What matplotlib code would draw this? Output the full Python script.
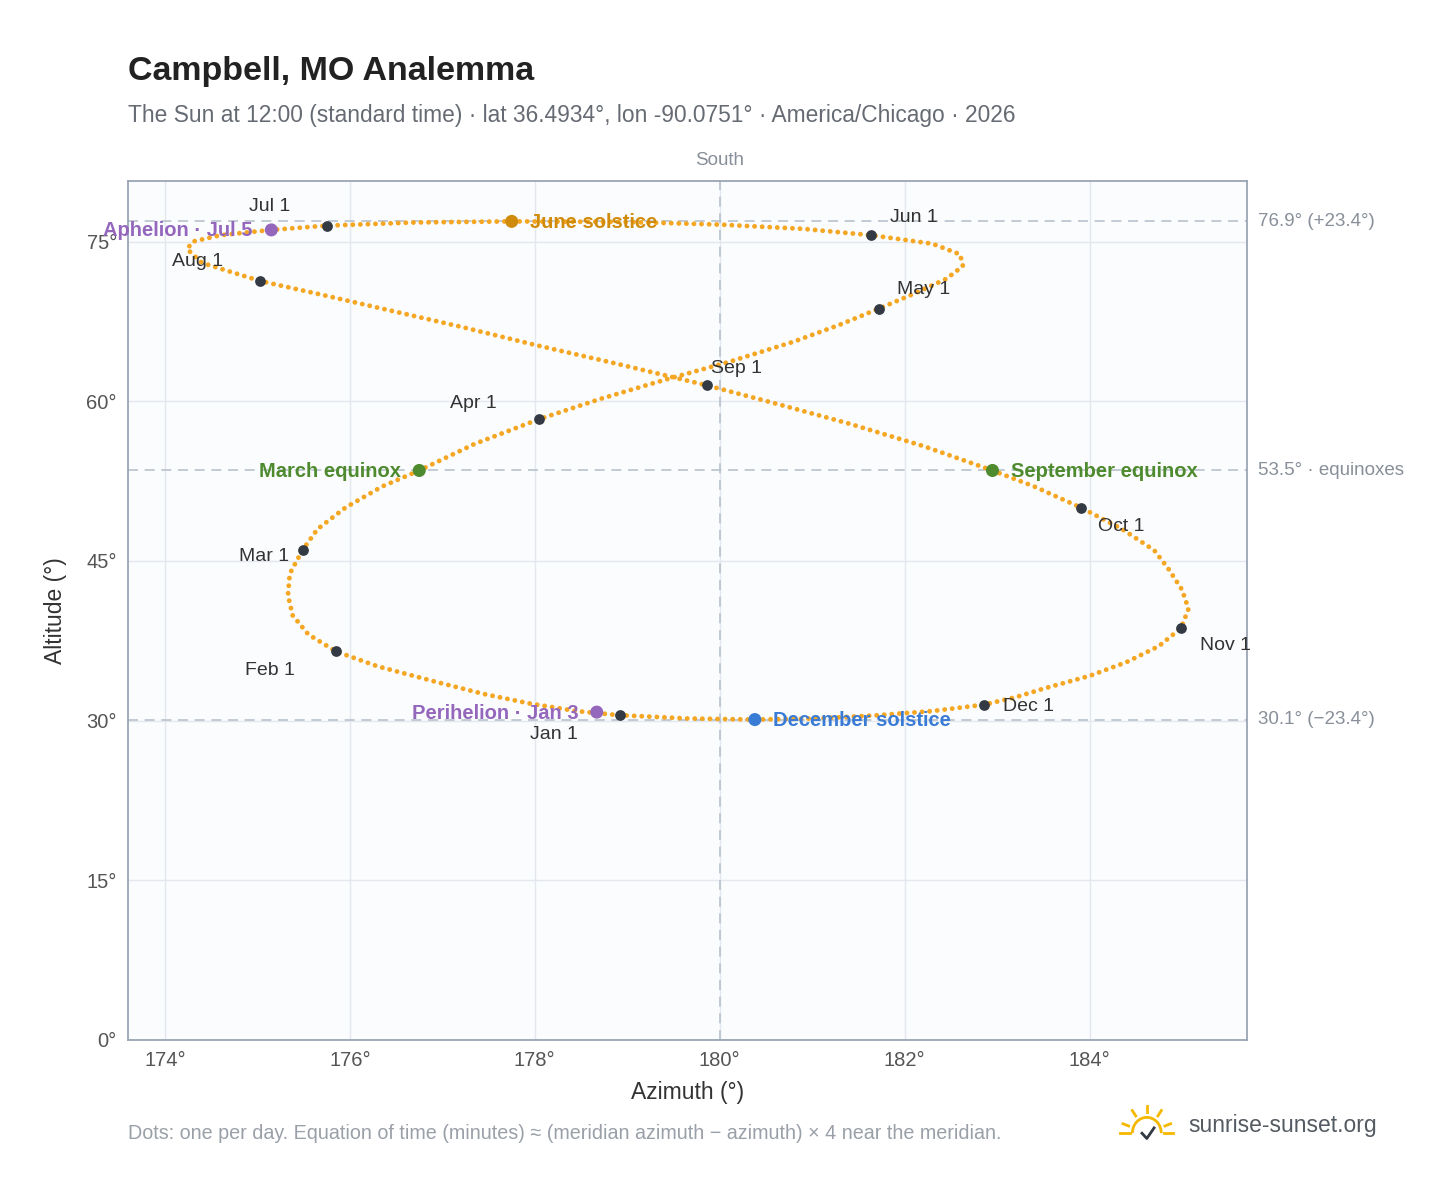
import matplotlib
matplotlib.use("Agg")
import matplotlib.pyplot as plt
import numpy as np
from matplotlib.patches import Arc

plt.rcParams['font.family'] = ['Liberation Sans', 'DejaVu Sans']

# Sun positions at ~5-day steps (azimuth deg, altitude deg)
az = [178.92,178.45,177.95,177.45,176.95,176.3,175.85,175.55,175.38,175.33,175.35,175.43,175.49,
      175.65,175.95,176.35,176.75,177.35,178.04,178.7,179.4,180.1,180.8,181.3,181.72,182.1,182.45,
      182.63,182.6,182.3,181.64,180.9,180.0,179.0,177.75,176.7,175.75,175.15,174.6,174.3,174.24,
      174.4,175.03,175.7,176.4,177.2,178.0,178.9,179.86,180.6,181.4,182.2,182.95,183.4,183.91,
      184.35,184.7,184.85,185.0,185.07,184.99,184.75,184.4,184.0,183.5,183.2,182.86,182.3,181.7,
      181.05,180.38,179.65,178.95]
alt = [30.5,30.9,31.6,32.5,33.6,35.1,36.5,38.1,39.9,41.8,43.8,45.1,46.05,
       48.0,50.0,52.0,53.5,56.0,58.3,60.2,62.0,63.7,65.6,67.2,68.7,70.1,71.5,
       72.7,73.8,74.8,75.6,76.2,76.6,76.85,76.9,76.8,76.5,76.1,75.6,75.0,74.3,
       73.0,71.3,70.0,68.6,67.0,65.3,63.5,61.5,59.8,57.9,55.8,53.5,52.0,50.0,
       48.0,46.0,44.3,42.3,40.5,38.7,37.0,35.5,34.2,33.0,32.2,31.5,30.9,30.5,
       30.2,30.1,30.2,30.5]

months = ["Jan 1","Feb 1","Mar 1","Apr 1","May 1","Jun 1","Jul 1","Aug 1","Sep 1","Oct 1","Nov 1","Dec 1"]
m_az = [178.92,175.85,175.49,178.04,181.72,181.64,175.75,175.03,179.86,183.91,184.99,182.86]
m_alt = [30.5,36.5,46.05,58.3,68.7,75.6,76.5,71.3,61.5,50.0,38.7,31.5]
m_off = [(-0.45,-1.8),(-0.45,-1.8),(-0.15,-0.6),(-0.45,1.5),(0.2,1.8),(0.2,1.7),(-0.4,1.8),(-0.4,1.8),
         (0.05,1.6),(0.18,-1.8),(0.2,-1.6),(0.2,-0.2)]
m_ha = ["right","right","right","right","left","left","right","right","left","left","left","left"]

events = ["June solstice","December solstice","March equinox","September equinox","Perihelion · Jan 3","Aphelion · Jul 5"]
e_az = [177.75,180.38,176.75,182.95,178.67,175.15]
e_alt = [76.9,30.1,53.5,53.5,30.8,76.1]
e_col = ["#d08b0b","#3a7bd5","#4e8a2e","#4e8a2e","#9467bd","#9467bd"]
e_ha = ["left","left","right","left","right","right"]

fig = plt.figure(figsize=(14.48,11.88), dpi=100)
ax = fig.add_axes([0.0884,0.1246,0.7726,0.7231])
ax.set_facecolor("#fafcfe")
ax.set_xlim(173.6,185.7); ax.set_ylim(0,80.7)
ax.set_xticks([174,176,178,180,182,184]); ax.set_xticklabels([f"{v}°" for v in [174,176,178,180,182,184]])
ax.set_yticks([0,15,30,45,60,75]); ax.set_yticklabels([f"{v}°" for v in [0,15,30,45,60,75]])
ax.grid(color="#e4e8ee", lw=1)
ax.tick_params(length=0, labelsize=14.5, colors="#555555", pad=8)
for s in ax.spines.values(): s.set_color("#9aa5b4"); s.set_linewidth(1.3)
ax.set_xlabel("Azimuth (°)", fontsize=16.5, color="#333333", labelpad=8)
ax.set_ylabel("Altitude (°)", fontsize=16.5, color="#333333", labelpad=14)

for y in [76.9,53.5,30.1]:
    ax.axhline(y, color="#b8c2cc", ls=(0,(6,4)), lw=1.2)
ax.axvline(180, color="#b8c2cc", ls=(0,(6,4)), lw=1.2)

ax.plot(az, alt, color="#f5a623", lw=3.5, ls=(0,(0.01,1.55)), dash_capstyle="round", solid_capstyle="round")

ax.scatter(m_az, m_alt, s=45, color="#333a44", zorder=5)
for n,x,y,(dx,dy),ha in zip(months,m_az,m_alt,m_off,m_ha):
    ax.text(x+dx, y+dy, n, fontsize=14, color="#333333", ha=ha, va="center", zorder=6)

ax.scatter(e_az, e_alt, s=70, color=e_col, zorder=6)
for n,x,y,c,ha in zip(events,e_az,e_alt,e_col,e_ha):
    d = 0.2 if ha=="left" else -0.2
    ax.text(x+d, y-0.1, n, fontsize=14.5, color=c, fontweight="bold", ha=ha, va="center", zorder=7)

for y,t in [(76.9,"76.9° (+23.4°)"),(53.5,"53.5° · equinoxes"),(30.1,"30.1° (−23.4°)")]:
    ax.text(1.01, y/80.7, t, transform=ax.transAxes, fontsize=13.5, color="#888f99", va="center")
ax.text(180, 81.8, "South", fontsize=13.5, color="#888f99", ha="center", va="bottom")

fig.text(0.0884, 0.94, "Campbell, MO Analemma", fontsize=24.5, fontweight="bold", color="#222222", va="center")
fig.text(0.0884, 0.903, "The Sun at 12:00 (standard time) · lat 36.4934°, lon -90.0751° · America/Chicago · 2026",
         fontsize=16.4, color="#666b73", va="center")
fig.text(0.0884, 0.046, "Dots: one per day. Equation of time (minutes) ≈ (meridian azimuth − azimuth) × 4 near the meridian.",
         fontsize=14.2, color="#9aa0a8", va="center")
fig.text(0.821, 0.053, "sunrise-sunset.org", fontsize=16.5, color="#555b63", va="center")

# logo
lax = fig.add_axes([0.772,0.035,0.04,0.04]); lax.axis("off"); lax.set_xlim(-1.2,1.2); lax.set_ylim(-0.6,1.2)
lax.add_patch(Arc((0,-0.1),1.2,1.2,theta1=0,theta2=180,color="#f5b800",lw=2))
for a in np.radians([20,55,90,125,160]):
    lax.plot([0.8*np.cos(a),1.05*np.cos(a)],[0.8*np.sin(a)-0.1,1.05*np.sin(a)-0.1],color="#f5b800",lw=2)
lax.plot([-1.1,-0.7],[-0.1,-0.1],color="#f5b800",lw=2); lax.plot([0.7,1.1],[-0.1,-0.1],color="#f5b800",lw=2)
lax.plot([-0.2,0,0.3],[-0.1,-0.3,0.1],color="#333a44",lw=2)

fig.savefig("out.png", dpi=100)
